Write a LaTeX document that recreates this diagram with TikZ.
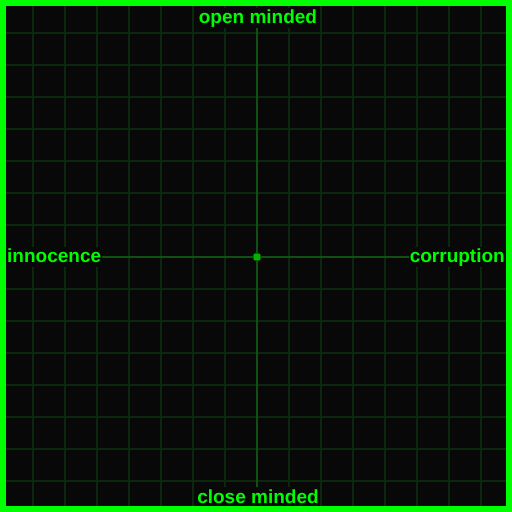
\documentclass[tikz,border=0pt]{standalone}
\usepackage{fontspec}
\setmainfont{Liberation Sans}
\definecolor{screen}{RGB}{8,8,8}
\definecolor{gridgreen}{RGB}{12,40,12}
\definecolor{axisgreen}{RGB}{16,80,16}
\definecolor{dotgreen}{RGB}{0,180,0}
\definecolor{neon}{RGB}{0,255,0}
\tikzset{
  label/.style={fill=screen, text=neon, font=\bfseries\fontsize{19}{21}\selectfont,
    inner sep=1pt, text height=15pt, text depth=3pt},
  gridline/.style={gridgreen, line width=2pt},
  axis/.style={axisgreen, line width=2pt}
}
\begin{document}
\begin{tikzpicture}[x=1pt,y=1pt]

  \fill[screen] (0,0) rectangle (512,512);
  \useasboundingbox (0,0) rectangle (512,512);

  % grid
  \foreach \k in {1,...,15} {
    \draw[gridline] ({32*\k+1},6) -- ({32*\k+1},506);
    \draw[gridline] (6,{511-32*\k}) -- (506,{511-32*\k});
  }

  \node[label, anchor=west] (innocence) at (6,255) {innocence};
  \node[label, anchor=east] (corruption) at (506,255) {corruption};
  \node[label] (open) at (258,494) {open minded};
  \node[label] (close) at (258,15) {close minded};

  % axes
  \draw[axis] (open.south -| 257,0) -- (close.north -| 257,0);
  \draw[axis] (innocence.east) -- (corruption.west);

  \fill[dotgreen!60!black] (257,255) circle (4.5);
  \fill[dotgreen] (254,252) rectangle (260,258);

  \draw[neon, line width=6pt] (3,3) rectangle (509,509);
  \end{tikzpicture}
\end{document}
